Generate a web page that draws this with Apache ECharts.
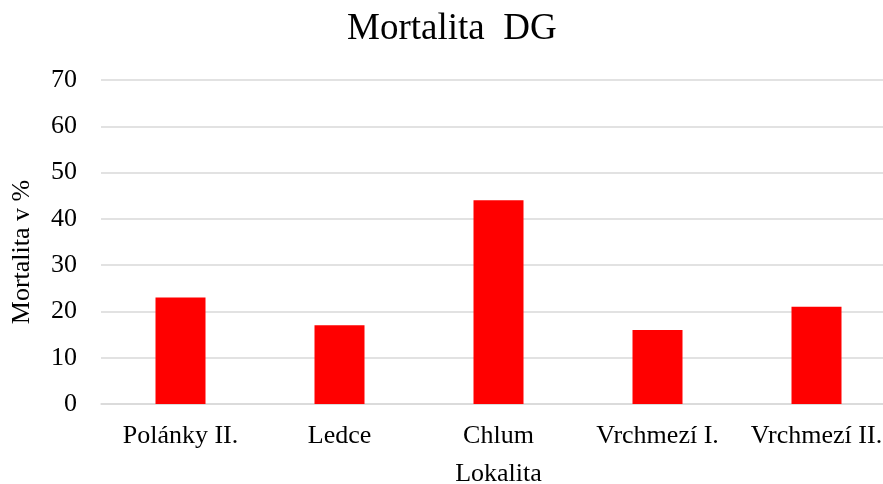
<!DOCTYPE html>
<html>
<head>
<meta charset="utf-8">
<script src="https://cdn.jsdelivr.net/npm/echarts@6/dist/echarts.min.js"></script>
<style>
  html, body { margin: 0; padding: 0; background: #fff; }
  #chart { width: 883px; height: 484px; }
</style>
</head>
<body>
<div id="chart"></div>
<script>
const categories = ['Polánky II.', 'Ledce', 'Chlum', 'Vrchmezí I.', 'Vrchmezí II.'];
const mortality = [23, 17, 44, 16, 21];

const font = 'Liberation Serif, Times New Roman, serif';
const chart = echarts.init(document.getElementById('chart'));

let option = {
  animation: false,
  title: {
    text: 'Mortalita  DG',
    left: 342,
    top: 6,
    textStyle: { fontFamily: font, fontSize: 37, fontWeight: 'normal', color: '#000' }
  },
  // plot area runs past the right edge of the picture, as in the original
  grid: { left: 101, width: 795, top: 80, bottom: 80, outerBoundsMode: 'none' },
  xAxis: {
    type: 'category',
    data: categories,
    name: 'Lokalita',
    nameLocation: 'middle',
    nameGap: 57,
    nameTextStyle: { fontFamily: font, fontSize: 26, color: '#000' },
    axisLine: { lineStyle: { color: '#d9d9d9', width: 1.5 } },
    axisTick: { show: false },
    axisLabel: { fontFamily: font, fontSize: 26, color: '#000', margin: 19, interval: 0 }
  },
  yAxis: {
    type: 'value',
    min: 0,
    max: 70,
    interval: 10,
    name: 'Mortalita v %',
    nameLocation: 'middle',
    nameGap: 66,
    nameTextStyle: { fontFamily: font, fontSize: 26, color: '#000', padding: [0, 20, 0, 0] },
    axisLine: { show: false },
    axisTick: { show: false },
    axisLabel: { fontFamily: font, fontSize: 26, color: '#000', margin: 24 },
    splitLine: { lineStyle: { color: '#d9d9d9', width: 1.5 } }
  },
  series: [{
    type: 'bar',
    data: mortality,
    barWidth: 50,
    itemStyle: { color: '#ff0000' }
  }]
};
chart.setOption(option);
</script>
</body>
</html>
